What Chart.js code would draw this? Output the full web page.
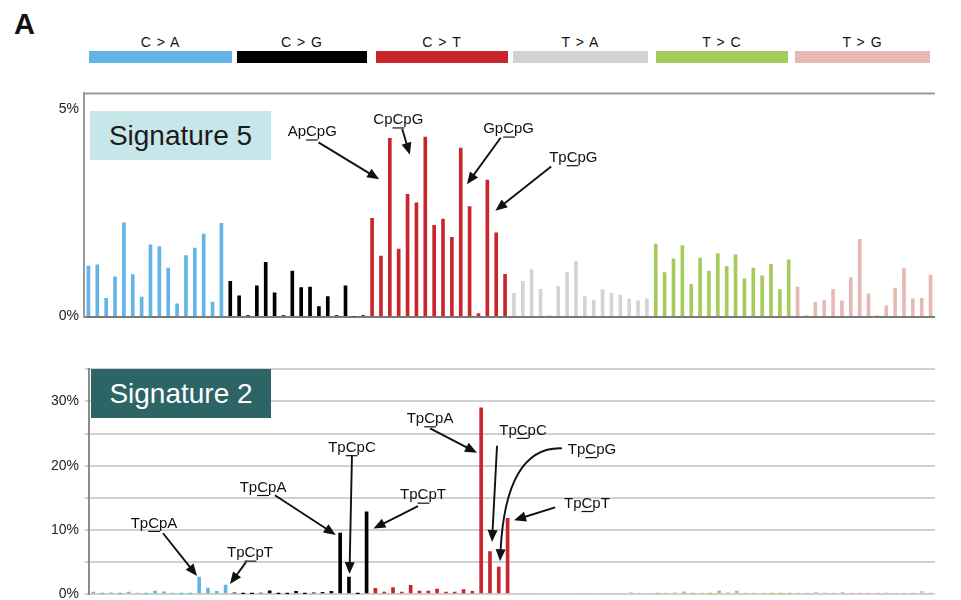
<!DOCTYPE html>
<html><head><meta charset="utf-8">
<script src="https://cdn.jsdelivr.net/npm/chart.js@4/dist/chart.umd.min.js"></script>
<style>
html,body{margin:0;padding:0;background:#fff}
body{width:961px;height:600px;overflow:hidden;position:relative;font-family:"Liberation Sans",Arial,sans-serif}
#letterA{position:absolute;left:14px;top:10px;font-weight:bold;font-size:29px;line-height:1;color:#111}
.strip{position:absolute;top:51px;height:12px}
.stripT{position:absolute;top:35px;font-size:14px;line-height:1;letter-spacing:1px;color:#111;transform:translateX(-50%);white-space:nowrap}
.wrap{position:absolute;left:0;width:961px}
.sig{position:absolute;font-size:28px;display:flex;align-items:center;justify-content:center;line-height:1}
</style>
</head><body>
<div id="letterA">A</div>
<div class="wrap" style="top:80px;height:250px"><canvas id="c5" width="961" height="250"></canvas></div>
<div class="wrap" style="top:355px;height:255px"><canvas id="c2" width="961" height="255"></canvas></div>
<div class="sig" style="left:90px;top:111px;width:181px;height:49px;background:#C7E6EA;color:#1b1b1b">Signature 5</div>
<div class="sig" style="left:91px;top:369px;width:180px;height:49px;background:#2D6466;color:#fff">Signature 2</div>
<script>
// ---- categories ----
const bases = ['A','C','G','T'];
const mutTypes = ['C>A','C>G','C>T','T>A','T>C','T>G'];
const mutLabels = ['C > A','C > G','C > T','T > A','T > C','T > G'];
const typeColors = ['#62B5E6','#000000','#C9262C','#D3D3D3','#A5CC5B','#E6B9B4'];

// ---- Signature 5 values (%) ----
const sig5CtoA = [1.22,1.25,0.44,0.96,2.26,1.01,0.47,1.73,1.69,1.17,0.31,1.47,1.65,1.99,0.35,2.25];
const sig5CtoG = [0.85,0.50,0.02,0.74,1.31,0.57,0.02,1.10,0.70,0.71,0.24,0.48,0.02,0.74,0.00,0.02];
const sig5CtoT = [2.37,1.46,4.30,1.63,2.95,2.74,4.33,2.20,2.35,1.91,4.06,2.65,0.07,3.29,2.02,1.02];
const sig5TtoA = [0.56,0.85,1.13,0.66,0.02,0.73,1.06,1.33,0.48,0.40,0.65,0.56,0.52,0.42,0.38,0.43];
const sig5TtoC = [1.75,1.06,1.39,1.71,0.78,1.41,1.10,1.52,1.21,1.49,0.91,1.17,0.98,1.26,0.65,1.37];
const sig5TtoG = [0.71,0.02,0.35,0.39,0.66,0.38,0.94,1.86,0.55,0.02,0.26,0.69,1.16,0.43,0.44,1.00];

// ---- Signature 2 values (%) ----
const sig2CtoA = [0.30,0.05,0.20,0.05,0.30,0.15,0.05,0.45,0.35,0.15,0.05,0.05,2.64,0.93,0.41,1.40];
const sig2CtoG = [0.20,0.05,0.05,0.15,0.50,0.05,0.05,0.40,0.05,0.20,0.25,0.40,9.50,2.64,0.05,12.80];
const sig2CtoT = [0.88,0.30,1.00,0.30,1.35,0.47,0.47,0.78,0.30,0.30,0.67,0.41,29.00,6.60,4.20,11.80];
const sig2TtoA = [0.05,0.05,0.05,0.05,0.05,0.05,0.10,0.05,0.05,0.05,0.05,0.05,0.05,0.30,0.10,0.05];
const sig2TtoC = [0.05,0.15,0.20,0.35,0.05,0.15,0.05,0.50,0.20,0.45,0.15,0.15,0.15,0.10,0.05,0.05];
const sig2TtoG = [0.05,0.05,0.25,0.20,0.15,0.25,0.05,0.05,0.05,0.05,0.20,0.15,0.15,0.05,0.40,0.05];

// ---- tick labels ----
const sig5Ticks = [0,5];
const sig2Ticks = [0,5,10,15,20,25,30,35];
const sig2LabelledTicks = [0,10,20,30];

// ---- annotations (category index, value) ----
const sig5Notes = [
  {pre:'Ap', mid:'C', post:'pG', tx:25.25, ty:4.45, sx:25.95, sy:4.20, ex:32.8, ey:3.31},
  {pre:'Cp', mid:'C', post:'pG', tx:34.96, ty:4.74, sx:35.40, sy:4.52, ex:36.26, ey:3.90},
  {pre:'Gp', mid:'C', post:'pG', tx:47.40, ty:4.52, sx:46.50, sy:4.31, ex:42.70, ey:3.19},
  {pre:'Tp', mid:'C', post:'pG', tx:54.70, ty:3.83, sx:52.20, sy:3.62, ex:45.90, ey:2.55}
];
const sig2Notes = [
  {pre:'Tp', mid:'C', post:'pA', tx:6.88,  ty:11.0, sx:7.90,  sy:9.47, ex:11.76, ey:2.8},
  {pre:'Tp', mid:'C', post:'pT', tx:17.77, ty:6.37, sx:17.32, sy:4.97, ex:15.5,  ey:1.55},
  {pre:'Tp', mid:'C', post:'pA', tx:19.25, ty:16.6, sx:20.6,  sy:15.4, ex:27.5,  ey:9.2},
  {pre:'Tp', mid:'C', post:'pC', tx:29.34, ty:22.8, sx:29.34, sy:21.6, ex:29.06, ey:3.1},
  {pre:'Tp', mid:'C', post:'pT', tx:37.4,  ty:15.4, sx:36.83, sy:13.7, ex:31.78, ey:10.2},
  {pre:'Tp', mid:'C', post:'pA', tx:38.2,  ty:27.3, sx:38.2,  sy:25.8, ex:43.53, ey:22.0},
  {pre:'Tp', mid:'C', post:'pC', tx:48.75, ty:25.5, sx:45.8,  sy:23.1, ex:45.23, ey:8.1},
  {pre:'Tp', mid:'C', post:'pG', tx:56.58, ty:22.5, sx:53.17, sy:22.7, cx:46.8, cy:23.0, ex:46.14, ey:5.1},
  {pre:'Tp', mid:'C', post:'pT', tx:56.0,  ty:14.1, sx:52.4,  sy:13.5, ex:47.73, ey:11.5}
];

// ---- legend strips (page layout) ----
const stripLayout = [[89,232],[237,367],[376,508],[513,648],[656,788],[795,930]];

const categories = [];
mutTypes.forEach(m => bases.forEach(a => bases.forEach(b => categories.push(a + '[' + m + ']' + b))));
const barColors = categories.map((c, i) => typeColors[Math.floor(i / 16)]);
const sig5 = [].concat(sig5CtoA, sig5CtoG, sig5CtoT, sig5TtoA, sig5TtoC, sig5TtoG);
const sig2 = [].concat(sig2CtoA, sig2CtoG, sig2CtoT, sig2TtoA, sig2TtoC, sig2TtoG);

stripLayout.forEach((p, i) => {
  const d = document.createElement('div');
  d.className = 'strip';
  d.style.left = p[0] + 'px'; d.style.width = (p[1] - p[0]) + 'px'; d.style.background = typeColors[i];
  document.body.appendChild(d);
  const t = document.createElement('div');
  t.className = 'stripT';
  t.style.left = ((p[0] + p[1]) / 2) + 'px';
  t.textContent = mutLabels[i];
  document.body.appendChild(t);
});

const FONT = '"Liberation Sans", Arial, sans-serif';

const topBorder = {
  id: 'topBorder',
  afterDraw(chart, args, opts) {
    if (!opts.draw) return;
    const a = chart.chartArea, c = chart.ctx;
    c.save(); c.strokeStyle = '#9a9a9a'; c.lineWidth = 2;
    c.beginPath(); c.moveTo(a.left - 1, a.top); c.lineTo(a.right, a.top); c.stroke();
    c.restore();
  }
};

function arrowHead(c, ang, tx, ty) {
  const L = 12, W = 5;
  c.beginPath();
  c.moveTo(tx, ty);
  c.lineTo(tx - L * Math.cos(ang) + W * Math.sin(ang), ty - L * Math.sin(ang) - W * Math.cos(ang));
  c.lineTo(tx - L * Math.cos(ang) - W * Math.sin(ang), ty - L * Math.sin(ang) + W * Math.cos(ang));
  c.closePath(); c.fill();
}

const notes = {
  id: 'notes',
  afterDraw(chart, args, opts) {
    const c = chart.ctx, xs = chart.scales.x, ys = chart.scales.y;
    const X = v => xs.getPixelForValue(v), Y = v => ys.getPixelForValue(v);
    c.save();
    c.fillStyle = '#111'; c.strokeStyle = '#111';
    c.font = '15px ' + FONT; c.textBaseline = 'middle'; c.textAlign = 'left';
    (opts.items || []).forEach(n => {
      const full = n.pre + n.mid + n.post;
      const w = c.measureText(full).width, wp = c.measureText(n.pre).width, wm = c.measureText(n.mid).width;
      const x0 = X(n.tx) - w / 2, y0 = Y(n.ty);
      c.fillText(full, x0, y0);
      c.beginPath(); c.lineWidth = 1.2; c.moveTo(x0 + wp, y0 + 8); c.lineTo(x0 + wp + wm + 1, y0 + 8); c.stroke();
      c.lineWidth = 1.9;
      const sx = X(n.sx), sy = Y(n.sy), ex = X(n.ex), ey = Y(n.ey);
      const ang = n.cx !== undefined ? Math.atan2(ey - Y(n.cy), ex - X(n.cx)) : Math.atan2(ey - sy, ex - sx);
      const bx = ex - 10 * Math.cos(ang), by = ey - 10 * Math.sin(ang);
      c.beginPath(); c.moveTo(sx, sy);
      if (n.cx !== undefined) c.quadraticCurveTo(X(n.cx), Y(n.cy), bx, by); else c.lineTo(bx, by);
      c.stroke();
      arrowHead(c, ang, ex, ey);
    });
    c.restore();
  }
};

new Chart(document.getElementById('c5'), {
  type: 'bar',
  data: { labels: categories, datasets: [{ data: sig5, backgroundColor: barColors, barThickness: 3, borderWidth: 0 }] },
  options: {
    responsive: false, animation: false, devicePixelRatio: 1,
    layout: { padding: { top: 12, bottom: 12, left: 0, right: 26 } },
    plugins: { legend: { display: false }, tooltip: { enabled: false }, topBorder: { draw: true }, notes: { items: sig5Notes } },
    scales: {
      x: { display: false },
      y: {
        min: 0, max: 5.38,
        afterFit(s) { s.width = 84; },
        afterBuildTicks(s) { s.ticks = sig5Ticks.map(v => ({ value: v })); },
        ticks: { callback: v => v + '%', font: { size: 14, family: FONT }, color: '#222', padding: 5 },
        grid: { color: ctx => (ctx.tick && ctx.tick.value === 0) ? '#7a7a7a' : 'rgba(0,0,0,0)', lineWidth: 2, drawTicks: false, tickLength: 0 },
        border: { color: '#9a9a9a', width: 2 }
      }
    }
  },
  plugins: [topBorder, notes]
});

new Chart(document.getElementById('c2'), {
  type: 'bar',
  data: { labels: categories, datasets: [{ data: sig2, backgroundColor: barColors, barThickness: 3, borderWidth: 0 }] },
  options: {
    responsive: false, animation: false, devicePixelRatio: 1,
    layout: { padding: { top: 14, bottom: 16, left: 0, right: 26 } },
    plugins: { legend: { display: false }, tooltip: { enabled: false }, topBorder: { draw: false }, notes: { items: sig2Notes } },
    scales: {
      x: { display: false },
      y: {
        min: 0, max: 35,
        afterFit(s) { s.width = 89; },
        afterBuildTicks(s) { s.ticks = sig2Ticks.map(v => ({ value: v })); },
        ticks: { callback: v => sig2LabelledTicks.includes(v) ? v + '%' : '', font: { size: 14, family: FONT }, color: '#222', padding: 6 },
        grid: { color: '#d0d0d0', lineWidth: 2, tickLength: 4 },
        border: { color: '#8a8a8a', width: 2 }
      }
    }
  },
  plugins: [topBorder, notes]
});
</script>
</body></html>
